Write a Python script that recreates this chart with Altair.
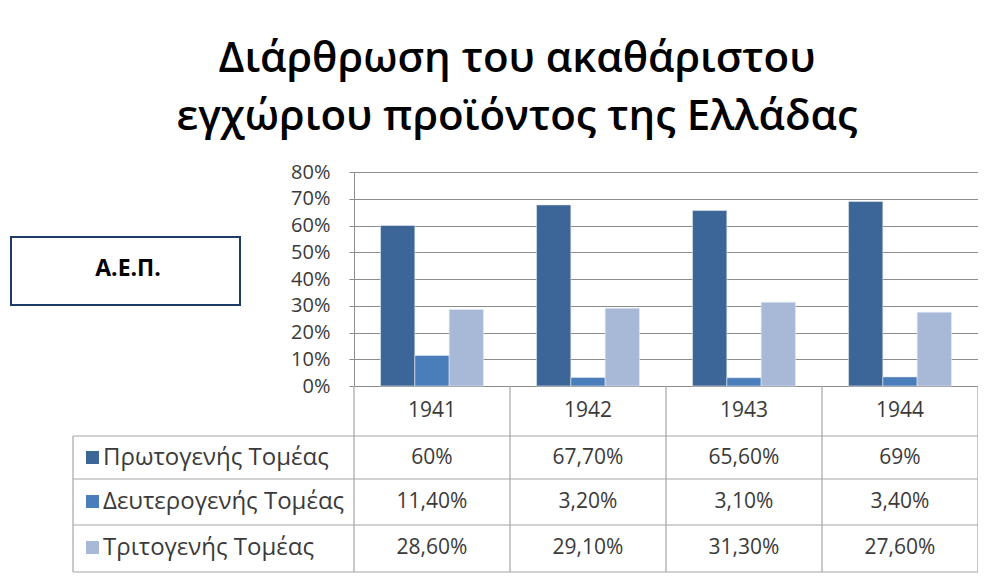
import altair as alt
import pandas as pd

years = ["1941", "1942", "1943", "1944"]
sectors = ["Πρωτογενής Τομέας", "Δευτερογενής Τομέας", "Τριτογενής Τομέας"]
primary = [60, 67.7, 65.6, 69]
secondary = [11.4, 3.2, 3.1, 3.4]
tertiary = [28.6, 29.1, 31.3, 27.6]
primary_lbl = ["60%", "67,70%", "65,60%", "69%"]
secondary_lbl = ["11,40%", "3,20%", "3,10%", "3,40%"]
tertiary_lbl = ["28,60%", "29,10%", "31,30%", "27,60%"]
y_ticks = [0, 10, 20, 30, 40, 50, 60, 70, 80]
colors = ["#3D6698", "#4A7EBB", "#A8B9D8"]
title_lines = ["Διάρθρωση του ακαθάριστου", "εγχώριου προϊόντος της Ελλάδας"]
box_label = "Α.Ε.Π."

series = [primary, secondary, tertiary]
labels = [primary_lbl, secondary_lbl, tertiary_lbl]
rows = []
for s, vals in zip(sectors, series):
    for yr, v in zip(years, vals):
        rows.append({"year": yr, "sector": s, "value": v})
df = pd.DataFrame(rows)

W, H = 624, 214
FONT = "Open Sans"
TXT = "#3A3A3A"
GRID = "#8C8C8C"
TAB = "#A6A6A6"
P = 0.34

xenc = alt.X("year:N", sort=years, scale=alt.Scale(paddingInner=P, paddingOuter=P / 2), axis=None)

bars = alt.Chart(df).mark_bar(stroke="#E4E9F2", strokeWidth=0.6).encode(
    x=xenc,
    xOffset=alt.XOffset("sector:N", sort=sectors, scale=alt.Scale(domain=sectors, paddingInner=0, paddingOuter=0)),
    y=alt.Y("value:Q", scale=alt.Scale(domain=[0, 80]),
            axis=alt.Axis(values=y_ticks, labelExpr="datum.value + '%'", title=None,
                          grid=True, gridColor=GRID, gridWidth=1, domainColor=GRID,
                          tickColor=GRID, tickSize=5, labelPadding=19,
                          labelFont=FONT, labelFontSize=20, labelColor=TXT)),
    color=alt.Color("sector:N", scale=alt.Scale(domain=sectors, range=colors), legend=None),
)

one = alt.Data(values=[{"k": 1}])
layers = [bars]

# table grid
tab_left = -281
row_bounds = [264, 307, 353, 400]
for yb in row_bounds:
    layers.append(alt.Chart(one).mark_rule(color=TAB, strokeWidth=1.2).encode(
        x=alt.value(tab_left), x2=alt.value(W), y=alt.value(yb)))
for xb in [156, 312, 468, W]:
    layers.append(alt.Chart(one).mark_rule(color=TAB, strokeWidth=1.2).encode(
        x=alt.value(xb), y=alt.value(H), y2=alt.value(400)))
layers.append(alt.Chart(one).mark_rule(color=TAB, strokeWidth=1.2).encode(
    x=alt.value(0), y=alt.value(H), y2=alt.value(400)))
layers.append(alt.Chart(one).mark_rule(color=TAB, strokeWidth=1.2).encode(
    x=alt.value(tab_left), y=alt.value(264), y2=alt.value(400)))

# header years
hdr = pd.DataFrame({"year": years})
layers.append(alt.Chart(hdr).mark_text(font=FONT, fontSize=21, color=TXT, baseline="middle").encode(
    x=alt.X("year:N", sort=years), y=alt.value(239), text="year:N"))

row_centers = [286, 330, 376]
for s, lbls, col, yc in zip(sectors, labels, colors, row_centers):
    d = pd.DataFrame({"year": years, "lbl": lbls})
    layers.append(alt.Chart(d).mark_text(font=FONT, fontSize=21, color=TXT, baseline="middle").encode(
        x=alt.X("year:N", sort=years), y=alt.value(yc), text="lbl:N"))
    layers.append(alt.Chart(alt.Data(values=[{"s": s}])).mark_rect(color=col).encode(
        x=alt.value(-268), x2=alt.value(-255), y=alt.value(yc - 7), y2=alt.value(yc + 6)))
    layers.append(alt.Chart(alt.Data(values=[{"s": s}])).mark_text(
        font=FONT, fontSize=24, color=TXT, align="left", baseline="middle").encode(
        x=alt.value(-251), y=alt.value(yc), text="s:N"))

# title
for t, yb in zip(title_lines, [-100, -42]):
    layers.append(alt.Chart(alt.Data(values=[{"t": t}])).mark_text(
        font=FONT, fontSize=42, fontWeight=600, color="#000000", align="center",
        baseline="alphabetic").encode(x=alt.value(163), y=alt.value(yb), text="t:N"))

# box
layers.append(alt.Chart(one).mark_rect(fill="white", stroke="#1F3A68", strokeWidth=2).encode(
    x=alt.value(-343), x2=alt.value(-114), y=alt.value(65), y2=alt.value(133)))
layers.append(alt.Chart(alt.Data(values=[{"t": box_label}])).mark_text(
    font=FONT, fontSize=23, fontWeight="bold", color="#000000", align="center",
    baseline="middle").encode(x=alt.value(-226), y=alt.value(97), text="t:N"))

chart = alt.layer(*layers).properties(
    width=W, height=H,
    autosize=alt.AutoSizeParams(type="none"),
    padding={"left": 346, "top": 164, "right": 0, "bottom": 190},
).configure_view(stroke=None)

chart.save("out.html", embed_options={"renderer": "svg", "actions": False})
